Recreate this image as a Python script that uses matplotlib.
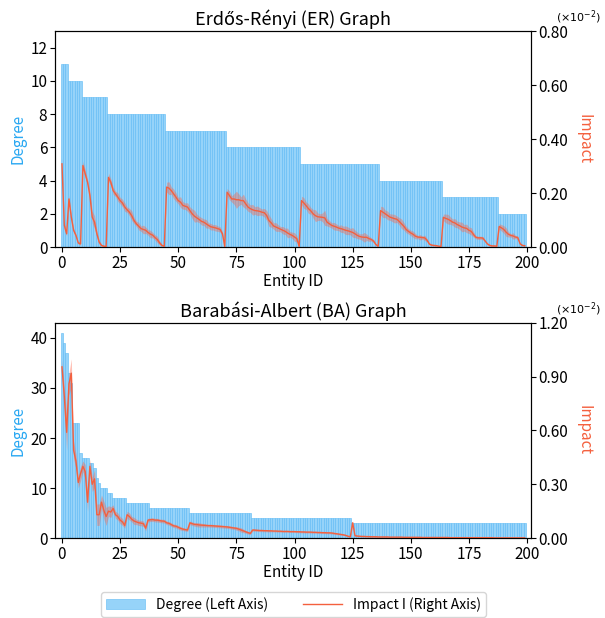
import numpy as np
import matplotlib.pyplot as plt

plt.rcParams['font.family'] = ['Noto Sans CJK JP', 'DejaVu Sans']

# entity ids 0..199, sorted by degree
entity_ids = list(range(200))

# Erdős-Rényi degrees
er_degree = ([11] * 3 + [10] * 6 + [9] * 11 + [8] * 25 + [7] * 26 + [6] * 32
             + [5] * 34 + [4] * 27 + [3] * 24 + [2] * 12)

# ER impact, in units of 1e-2 (right axis)
er_impact = [
    0.308, 0.080, 0.049, 0.178, 0.111, 0.062, 0.043, 0.015, 0.012, 0.302,
    0.271, 0.240, 0.191, 0.111, 0.092, 0.049, 0.018, 0.006, 0.003, 0.002,
    0.258, 0.240, 0.209, 0.197, 0.185, 0.172, 0.163, 0.148, 0.138, 0.129,
    0.116, 0.098, 0.086, 0.077, 0.068, 0.065, 0.062, 0.054, 0.048, 0.044,
    0.035, 0.028, 0.015, 0.006, 0.003, 0.222, 0.218, 0.209, 0.197, 0.185,
    0.172, 0.166, 0.154, 0.151, 0.148, 0.135, 0.123, 0.114, 0.108, 0.102,
    0.095, 0.092, 0.086, 0.080, 0.075, 0.073, 0.071, 0.068, 0.065, 0.049,
    0.002, 0.203, 0.191, 0.178, 0.178, 0.175, 0.175, 0.172, 0.172, 0.160,
    0.148, 0.142, 0.138, 0.135, 0.134, 0.132, 0.129, 0.127, 0.117, 0.098,
    0.089, 0.078, 0.074, 0.070, 0.066, 0.062, 0.058, 0.052, 0.047, 0.043,
    0.037, 0.031, 0.002, 0.172, 0.163, 0.153, 0.142, 0.134, 0.123, 0.116,
    0.112, 0.111, 0.110, 0.108, 0.092, 0.086, 0.080, 0.077, 0.074, 0.070,
    0.068, 0.065, 0.062, 0.060, 0.057, 0.054, 0.049, 0.043, 0.039, 0.037,
    0.036, 0.036, 0.031, 0.028, 0.022, 0.009, 0.003, 0.135, 0.129, 0.123,
    0.117, 0.111, 0.108, 0.105, 0.103, 0.095, 0.086, 0.077, 0.065, 0.058,
    0.052, 0.047, 0.040, 0.037, 0.036, 0.035, 0.034, 0.025, 0.011, 0.007,
    0.006, 0.005, 0.003, 0.002, 0.110, 0.106, 0.103, 0.098, 0.092, 0.089,
    0.083, 0.079, 0.074, 0.071, 0.069, 0.062, 0.058, 0.046, 0.036, 0.034,
    0.034, 0.033, 0.022, 0.011, 0.006, 0.004, 0.004, 0.003, 0.076, 0.071,
    0.065, 0.055, 0.047, 0.043, 0.041, 0.037, 0.035, 0.012, 0.006, 0.005,
]

# spread of the ER impact (shaded band)
er_std = [
    0.022, 0.012, 0.008, 0.014, 0.010, 0.008, 0.006, 0.005, 0.005, 0.016,
    0.014, 0.012, 0.016, 0.022, 0.024, 0.014, 0.008, 0.004, 0.003, 0.003,
    0.016, 0.012, 0.014, 0.010, 0.016, 0.012, 0.014, 0.016, 0.010, 0.014,
    0.018, 0.012, 0.010, 0.014, 0.010, 0.016, 0.012, 0.010, 0.014, 0.010,
    0.010, 0.012, 0.008, 0.004, 0.003, 0.018, 0.024, 0.014, 0.018, 0.016,
    0.012, 0.020, 0.014, 0.012, 0.016, 0.014, 0.018, 0.022, 0.014, 0.012,
    0.014, 0.012, 0.016, 0.010, 0.012, 0.010, 0.012, 0.010, 0.010, 0.008,
    0.003, 0.014, 0.016, 0.012, 0.020, 0.032, 0.022, 0.014, 0.024, 0.018,
    0.016, 0.014, 0.020, 0.014, 0.018, 0.014, 0.012, 0.016, 0.018, 0.022,
    0.016, 0.012, 0.016, 0.012, 0.010, 0.014, 0.012, 0.018, 0.010, 0.012,
    0.016, 0.012, 0.003, 0.016, 0.020, 0.014, 0.018, 0.012, 0.016, 0.022,
    0.014, 0.012, 0.016, 0.028, 0.014, 0.012, 0.010, 0.014, 0.012, 0.010,
    0.014, 0.012, 0.016, 0.014, 0.012, 0.018, 0.014, 0.012, 0.010, 0.012,
    0.018, 0.012, 0.010, 0.006, 0.006, 0.004, 0.003, 0.016, 0.020, 0.014,
    0.016, 0.012, 0.014, 0.016, 0.012, 0.014, 0.018, 0.014, 0.012, 0.010,
    0.010, 0.012, 0.010, 0.006, 0.010, 0.006, 0.010, 0.006, 0.004, 0.003,
    0.003, 0.003, 0.003, 0.003, 0.012, 0.016, 0.018, 0.014, 0.012, 0.016,
    0.012, 0.014, 0.018, 0.012, 0.016, 0.012, 0.014, 0.010, 0.006, 0.006,
    0.006, 0.006, 0.004, 0.004, 0.003, 0.003, 0.003, 0.003, 0.010, 0.012,
    0.014, 0.016, 0.010, 0.006, 0.012, 0.006, 0.006, 0.004, 0.003, 0.003,
]

# Barabási-Albert degrees
ba_degree = ([41, 39, 37, 33, 31] + [23] * 3 + [17] + [16] * 3 + [15] * 2
             + [14, 12, 11] + [10] * 3 + [9] * 2 + [8] * 6 + [7] * 10
             + [6] * 17 + [5] * 27 + [4] * 43 + [3] * 75)

# BA impact, in units of 1e-2
ba_impact = [
    0.955, 0.79, 0.59, 0.86, 0.92, 0.49, 0.43, 0.31, 0.36, 0.40,
    0.37, 0.20, 0.40, 0.30, 0.33, 0.13, 0.13, 0.20, 0.155, 0.12,
    0.15, 0.145, 0.165, 0.13, 0.12, 0.10, 0.09, 0.07, 0.13, 0.12,
    0.105, 0.095, 0.09, 0.085, 0.083, 0.08, 0.055, 0.10, 0.102, 0.103,
    0.10, 0.10, 0.097, 0.095, 0.094, 0.085, 0.082, 0.075, 0.068, 0.066,
    0.06, 0.054, 0.05, 0.047, 0.045, 0.085, 0.08, 0.076, 0.075, 0.073,
    0.072, 0.071, 0.07, 0.069, 0.069, 0.068, 0.067, 0.066, 0.065, 0.064,
    0.063, 0.062, 0.06, 0.058, 0.056, 0.054, 0.05, 0.045, 0.04, 0.035,
    0.03, 0.026, 0.045, 0.044, 0.043, 0.042, 0.042, 0.041, 0.041, 0.040,
    0.040, 0.039, 0.039, 0.038, 0.038, 0.037, 0.037, 0.037, 0.036, 0.036,
    0.036, 0.035, 0.035, 0.034, 0.034, 0.033, 0.033, 0.033, 0.032, 0.032,
    0.031, 0.031, 0.030, 0.030, 0.029, 0.029, 0.028, 0.026, 0.024, 0.022,
    0.020, 0.018, 0.015, 0.010, 0.007, 0.085, 0.013, 0.011, 0.010, 0.009,
    0.009, 0.008, 0.008, 0.007, 0.007, 0.007, 0.006, 0.006, 0.006, 0.006,
    0.006, 0.005, 0.005, 0.005, 0.005, 0.005, 0.005, 0.004, 0.004, 0.004,
    0.004, 0.004, 0.004, 0.004, 0.004, 0.003, 0.003, 0.003, 0.003, 0.003,
    0.003, 0.003, 0.003, 0.003, 0.003, 0.003, 0.003, 0.002, 0.002, 0.002,
    0.002, 0.002, 0.002, 0.002, 0.002, 0.002, 0.002, 0.002, 0.002, 0.002,
    0.002, 0.002, 0.002, 0.002, 0.002, 0.002, 0.001, 0.001, 0.001, 0.001,
    0.001, 0.001, 0.001, 0.001, 0.001, 0.001, 0.001, 0.001, 0.001, 0.001,
]

ba_std = [
    0.04, 0.05, 0.10, 0.06, 0.08, 0.05, 0.04, 0.03, 0.04, 0.03,
    0.04, 0.05, 0.04, 0.04, 0.05, 0.06, 0.06, 0.04, 0.05, 0.05,
    0.03, 0.03, 0.02, 0.02, 0.02, 0.02, 0.02, 0.015, 0.02, 0.02,
    0.015, 0.02, 0.015, 0.015, 0.015, 0.015, 0.015, 0.01, 0.01, 0.01,
    0.01, 0.01, 0.01, 0.01, 0.01, 0.01, 0.01, 0.01, 0.01, 0.01,
    0.01, 0.01, 0.008, 0.008, 0.008, 0.01, 0.01, 0.01, 0.012, 0.012,
    0.01, 0.01, 0.008, 0.008, 0.008, 0.008, 0.008, 0.008, 0.008, 0.008,
    0.008, 0.008, 0.008, 0.008, 0.008, 0.01, 0.01, 0.012, 0.01, 0.008,
    0.008, 0.006, 0.006, 0.006, 0.006, 0.006, 0.006, 0.006, 0.006, 0.006,
    0.005, 0.005, 0.005, 0.005, 0.005, 0.005, 0.005, 0.005, 0.005, 0.005,
    0.005, 0.005, 0.005, 0.005, 0.005, 0.005, 0.005, 0.005, 0.005, 0.005,
    0.005, 0.005, 0.005, 0.005, 0.005, 0.005, 0.005, 0.005, 0.005, 0.004,
    0.004, 0.004, 0.004, 0.004, 0.004, 0.010, 0.004, 0.003, 0.003, 0.003,
    0.003, 0.003, 0.003, 0.003, 0.003, 0.003, 0.003, 0.003, 0.003, 0.003,
    0.003, 0.003, 0.003, 0.003, 0.003, 0.003, 0.003, 0.002, 0.002, 0.002,
    0.002, 0.002, 0.002, 0.002, 0.002, 0.002, 0.002, 0.002, 0.002, 0.002,
    0.002, 0.002, 0.002, 0.002, 0.002, 0.002, 0.002, 0.002, 0.002, 0.002,
    0.001, 0.001, 0.001, 0.001, 0.001, 0.001, 0.001, 0.001, 0.001, 0.001,
    0.001, 0.001, 0.001, 0.001, 0.001, 0.001, 0.001, 0.001, 0.001, 0.001,
    0.001, 0.001, 0.001, 0.001, 0.001, 0.001, 0.001, 0.001, 0.001, 0.001,
]

bar_color = '#96D3F9'
bar_edge = '#5DBAF5'
line_color = '#F4603E'
deg_label_color = '#2AA8F2'

fig = plt.figure(figsize=(6.05, 6.18), dpi=100)
ax_top = fig.add_axes([0.0909, 0.6003, 0.7868, 0.3495])
ax_bot = fig.add_axes([0.0909, 0.1294, 0.7868, 0.348])


def draw_panel(ax, degree, impact, std, title, deg_max, deg_ticks, imp_max, imp_ticks):
    x = np.array(entity_ids)
    imp = np.array(impact)
    sd = np.array(std)
    bars = ax.bar(x, degree, width=1.0, color=bar_color, edgecolor=bar_edge,
                  linewidth=0.4, label='Degree (Left Axis)')
    ax.set_xlim(-3, 201.7)
    ax.set_ylim(0, deg_max)
    ax.set_yticks(deg_ticks)
    ax.set_xticks(range(0, 201, 25))
    ax.set_xlabel('Entity ID', fontsize=11, labelpad=1)
    ax.set_ylabel('Degree', fontsize=11, color=deg_label_color, labelpad=3)
    ax.set_title(title, fontsize=13, pad=4)
    ax.tick_params(labelsize=11, pad=2)

    ax2 = ax.twinx()
    ax2.fill_between(x, imp - sd, imp + sd, color='tomato', alpha=0.4, linewidth=0)
    line, = ax2.plot(x, imp, color=line_color, linewidth=1.0, label='Impact I (Right Axis)')
    ax2.set_ylim(0, imp_max)
    ax2.set_yticks(imp_ticks)
    ax2.set_yticklabels([f'{t:.2f}' for t in imp_ticks])
    ax2.tick_params(labelsize=11, pad=2)
    ax2.set_ylabel('Impact', fontsize=11, color=line_color, rotation=270, labelpad=17)
    ax2.text(1.099, 1.065, r'$(\times10^{-2})$', transform=ax2.transAxes,
             ha='center', va='center', fontsize=8)
    return bars, line


bars, line = draw_panel(ax_top, er_degree, er_impact, er_std, 'Erdős-Rényi (ER) Graph',
                        13, range(0, 13, 2), 0.8, [0.0, 0.2, 0.4, 0.6, 0.8])
draw_panel(ax_bot, ba_degree, ba_impact, ba_std, 'Barabási-Albert (BA) Graph',
           43, range(0, 41, 10), 1.2, [0.0, 0.3, 0.6, 0.9, 1.2])

fig.legend([bars, line], ['Degree (Left Axis)', 'Impact I (Right Axis)'],
           loc='center', bbox_to_anchor=(0.485, 0.022), ncol=2, fontsize=10,
           columnspacing=2.5, handlelength=2.8, borderpad=0.35)

fig.savefig('out.png', dpi=100)
